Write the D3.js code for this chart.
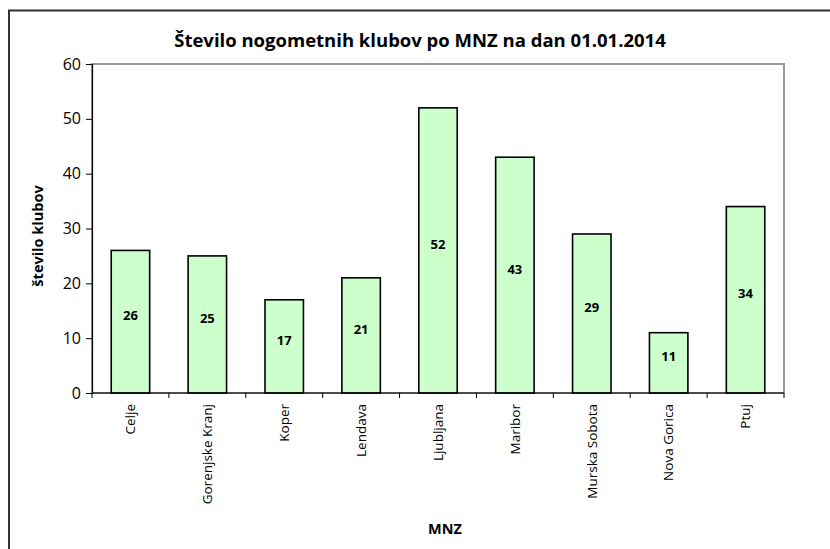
<!DOCTYPE html>
<html>
<head>
<meta charset="utf-8">
<script src="https://cdn.jsdelivr.net/npm/d3@7"></script>
<style>
  body { margin: 0; background: #fff; }
  svg text { font-family: "Open Sans", Lato, sans-serif; }
</style>
</head>
<body>
<div id="chart"></div>
<script>
// data
var categories = ["Celje", "Gorenjske Kranj", "Koper", "Lendava", "Ljubljana", "Maribor", "Murska Sobota", "Nova Gorica", "Ptuj"];
var values = [26, 25, 17, 21, 52, 43, 29, 11, 34];
var yTicks = [0, 10, 20, 30, 40, 50, 60];

var width = 830, height = 549;
var margin = {top: 64, right: 46, bottom: 156, left: 92};
var w = width - margin.left - margin.right,
    h = height - margin.top - margin.bottom;

var svg = d3.select("#chart").append("svg")
    .attr("width", width)
    .attr("height", height);

// outer frame
svg.append("rect")
    .attr("x", 9).attr("y", 10.5)
    .attr("width", 900).attr("height", 700)
    .attr("fill", "none")
    .attr("stroke", "#333")
    .attr("stroke-width", 2);

var main = svg.append("g")
    .attr("transform", "translate(" + margin.left + "," + margin.top + ")");

var x = d3.scaleBand()
    .domain(categories)
    .range([0, w])
    .paddingInner(0.5)
    .paddingOuter(0.25);

var y = d3.scaleLinear()
    .domain([0, 60])
    .range([h, 0]);

// plot frame (grey top / right)
main.append("rect")
    .attr("x", 0).attr("y", 0)
    .attr("width", w).attr("height", h)
    .attr("fill", "none")
    .attr("stroke", "#999")
    .attr("stroke-width", 2);

// bars
var bar = main.selectAll(".bar")
    .data(values)
  .enter().append("g")
    .attr("class", "bar");

bar.append("rect")
    .attr("x", function(d, i) { return x(categories[i]); })
    .attr("y", function(d) { return y(d); })
    .attr("width", x.bandwidth())
    .attr("height", function(d) { return h - y(d); })
    .attr("fill", "#ccffcc")
    .attr("stroke", "#000")
    .attr("stroke-width", 1.6);

bar.append("text")
    .attr("x", function(d, i) { return x(categories[i]) + x.bandwidth() / 2; })
    .attr("y", function(d) { return (y(d) + h) / 2 - 6; })
    .attr("dy", "0.35em")
    .attr("text-anchor", "middle")
    .style("font-weight", "bold")
    .style("font-size", "13px")
    .text(function(d) { return d; });

// y axis
var yAxis = d3.axisLeft(y)
    .tickValues(yTicks)
    .tickSize(6)
    .tickPadding(5);

var gy = main.append("g").call(yAxis);
gy.select(".domain").attr("stroke", "#000").attr("stroke-width", 1.2);
gy.selectAll(".tick line").attr("stroke", "#000");
gy.selectAll(".tick text").style("font-size", "16px").attr("fill", "#000");

// x axis: ticks sit between the categories
var xEdge = d3.scaleLinear().domain([0, categories.length]).range([0, w]);
var gx = main.append("g")
    .attr("transform", "translate(0," + h + ")");
gx.append("line")
    .attr("x1", 0).attr("x2", w)
    .attr("stroke", "#000").attr("stroke-width", 1.2);
gx.selectAll(".xtick")
    .data(d3.range(categories.length + 1))
  .enter().append("line")
    .attr("x1", function(d) { return xEdge(d); })
    .attr("x2", function(d) { return xEdge(d); })
    .attr("y1", 0).attr("y2", 5)
    .attr("stroke", "#000");
gx.selectAll(".xlabel")
    .data(categories)
  .enter().append("text")
    .attr("transform", function(d) {
      return "translate(" + (x(d) + x.bandwidth() / 2) + ",11) rotate(-90)";
    })
    .attr("dy", "0.35em")
    .attr("text-anchor", "end")
    .style("font-size", "13.5px")
    .text(function(d) { return d; });

// titles
svg.append("text")
    .attr("x", 420).attr("y", 47)
    .attr("text-anchor", "middle")
    .style("font-weight", "bold")
    .style("font-size", "18.5px")
    .text("Število nogometnih klubov po MNZ na dan 01.01.2014");

svg.append("text")
    .attr("x", 445).attr("y", 534)
    .attr("text-anchor", "middle")
    .style("font-weight", "bold")
    .style("font-size", "14.5px")
    .text("MNZ");

svg.append("text")
    .attr("transform", "translate(43,236) rotate(-90)")
    .attr("text-anchor", "middle")
    .style("font-weight", "bold")
    .style("font-size", "14.5px")
    .text("število klubov");
</script>
</body>
</html>
